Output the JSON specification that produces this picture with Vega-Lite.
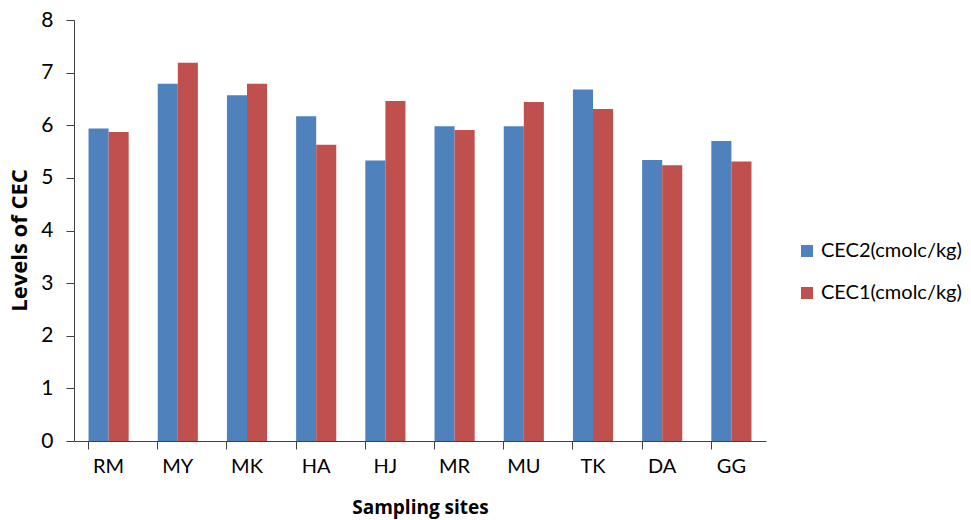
{
  "$schema": "https://vega.github.io/schema/vega-lite/v6.json",
  "width": 692,
  "height": 421,
  "autosize": {"type": "none"},
  "padding": {"left": 74, "top": 20, "right": 205, "bottom": 79},
  "background": "white",
  "config": {
    "view": {"stroke": null},
    "font": "Lato"
  },
  "data": {
    "values": [
      {"site": "RM", "series": "CEC2(cmolc/kg)", "value": 5.94},
      {"site": "RM", "series": "CEC1(cmolc/kg)", "value": 5.87},
      {"site": "MY", "series": "CEC2(cmolc/kg)", "value": 6.79},
      {"site": "MY", "series": "CEC1(cmolc/kg)", "value": 7.19},
      {"site": "MK", "series": "CEC2(cmolc/kg)", "value": 6.57},
      {"site": "MK", "series": "CEC1(cmolc/kg)", "value": 6.79},
      {"site": "HA", "series": "CEC2(cmolc/kg)", "value": 6.17},
      {"site": "HA", "series": "CEC1(cmolc/kg)", "value": 5.63},
      {"site": "HJ", "series": "CEC2(cmolc/kg)", "value": 5.33},
      {"site": "HJ", "series": "CEC1(cmolc/kg)", "value": 6.46},
      {"site": "MR", "series": "CEC2(cmolc/kg)", "value": 5.98},
      {"site": "MR", "series": "CEC1(cmolc/kg)", "value": 5.91},
      {"site": "MU", "series": "CEC2(cmolc/kg)", "value": 5.98},
      {"site": "MU", "series": "CEC1(cmolc/kg)", "value": 6.44},
      {"site": "TK", "series": "CEC2(cmolc/kg)", "value": 6.68},
      {"site": "TK", "series": "CEC1(cmolc/kg)", "value": 6.31},
      {"site": "DA", "series": "CEC2(cmolc/kg)", "value": 5.34},
      {"site": "DA", "series": "CEC1(cmolc/kg)", "value": 5.24},
      {"site": "GG", "series": "CEC2(cmolc/kg)", "value": 5.70},
      {"site": "GG", "series": "CEC1(cmolc/kg)", "value": 5.31}
    ]
  },
  "mark": {"type": "bar"},
  "encoding": {
    "x": {
      "field": "site",
      "type": "nominal",
      "sort": ["RM", "MY", "MK", "HA", "HJ", "MR", "MU", "TK", "DA", "GG"],
      "scale": {"paddingInner": 0.42, "paddingOuter": 0.21},
      "axis": {
        "title": "Sampling sites",
        "titleFont": "Open Sans",
        "titleFontSize": 19,
        "titleFontWeight": "bold",
        "titleColor": "#000",
        "titlePadding": 22,
        "labelAngle": 0,
        "labelFont": "Lato",
        "labelFontSize": 20,
        "labelColor": "#000",
        "labelPadding": 7,
        "bandPosition": 0,
        "tickSize": 8,
        "tickColor": "#404040",
        "domainColor": "#404040",
        "grid": false
      }
    },
    "xOffset": {
      "field": "series",
      "type": "nominal",
      "sort": ["CEC2(cmolc/kg)", "CEC1(cmolc/kg)"],
      "scale": {"paddingInner": 0, "paddingOuter": 0}
    },
    "y": {
      "field": "value",
      "type": "quantitative",
      "scale": {"domain": [0, 8], "nice": false},
      "axis": {
        "title": "Levels of CEC",
        "titleFont": "Open Sans",
        "titleFontSize": 22,
        "titleFontWeight": "bold",
        "titleColor": "#000",
        "titlePadding": 9,
        "titleY": 220,
        "values": [0, 1, 2, 3, 4, 5, 6, 7, 8],
        "labelFont": "Lato",
        "labelFontSize": 21,
        "labelColor": "#000",
        "labelPadding": 13,
        "tickSize": 8,
        "tickColor": "#404040",
        "domainColor": "#404040",
        "grid": false
      }
    },
    "color": {
      "field": "series",
      "type": "nominal",
      "sort": ["CEC2(cmolc/kg)", "CEC1(cmolc/kg)"],
      "scale": {"range": ["#4F81BD", "#C0504D"]},
      "legend": {
        "title": null,
        "orient": "none",
        "legendX": 723,
        "legendY": 221,
        "symbolType": "square",
        "symbolSize": 144,
        "symbolStrokeWidth": 0,
        "labelFont": "Lato",
        "labelFontSize": 20,
        "labelColor": "#000",
        "labelLimit": 200,
        "rowPadding": 22,
        "labelOffset": 4
      }
    }
  }
}
